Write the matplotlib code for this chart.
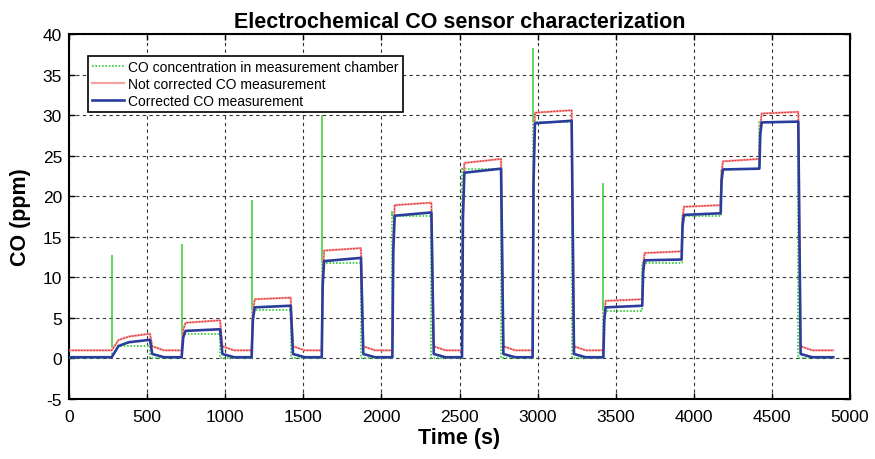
import matplotlib
matplotlib.use("Agg")
import matplotlib.pyplot as plt
from matplotlib.lines import Line2D

plt.rcParams['font.family'] = ['Liberation Sans', 'DejaVu Sans']
plt.rcParams['axes.unicode_minus'] = False

# Exposure schedule (s): each segment starts at seg_start and ends at seg_end
seg_start = [273, 721, 1169, 1618, 2070, 2516, 2968, 3421, 3670, 3922, 4172, 4420]
seg_end = [518, 967, 1419, 1869, 2320, 2766, 3218, 3670, 3922, 4172, 4420, 4669]
t_end = 4893

# Reference CO concentration in the chamber (ppm) and the injection spikes
green_level = [1.5, 3.0, 6.0, 11.8, 17.6, 23.4, 29.2, 5.9, 11.8, 17.6, 23.4, 29.2]
green_spike = [12.7, 14.1, 19.5, 30.0, 18.2, 23.5, 38.3, 21.6, 11.8, 17.6, 23.4, 29.2]

# Uncorrected sensor reading (ppm): value after the rise and at the end of each segment
red_start = [2.7, 4.4, 7.3, 13.3, 18.9, 24.1, 30.3, 7.1, 13.0, 18.7, 24.3, 30.2]
red_end = [3.05, 4.7, 7.5, 13.6, 19.2, 24.6, 30.6, 7.3, 13.2, 18.9, 24.6, 30.4]
red_base = 1.0
red_tail = 1.5

# Corrected sensor reading (ppm)
blue_start = [2.0, 3.4, 6.3, 12.0, 17.6, 22.9, 29.0, 6.3, 12.1, 17.7, 23.3, 29.1]
blue_end = [2.3, 3.6, 6.5, 12.4, 18.0, 23.4, 29.3, 6.5, 12.2, 17.9, 23.4, 29.2]
blue_base = 0.15
blue_tail = 0.55

# Sensor rise time for each segment (s)
rise_s = [110, 25, 20, 15, 15, 15, 15, 15, 15, 15, 15, 15]

x_ticks = [0, 500, 1000, 1500, 2000, 2500, 3000, 3500, 4000, 4500, 5000]
y_ticks = [-5, 0, 5, 10, 15, 20, 25, 30, 35, 40]


def sensor_trace(start_lv, end_lv, base, tail, fall=15, settle=90):
    t, v = [0.0], [base]
    for i, (s, e) in enumerate(zip(seg_start, seg_end)):
        prev = v[-1]
        t.append(s); v.append(prev)
        t.append(s + 0.4 * rise_s[i]); v.append(prev + 0.75 * (start_lv[i] - prev))
        t.append(s + rise_s[i]); v.append(start_lv[i])
        t.append(e); v.append(end_lv[i])
        last = i == len(seg_start) - 1
        if last or seg_start[i + 1] != e:
            t.append(e + fall); v.append(tail)
            t.append(e + settle); v.append(base)
    t.append(t_end); v.append(v[-1])
    return t, v


def chamber_trace():
    t, v = [0.0], [0.0]
    for i, (s, e) in enumerate(zip(seg_start, seg_end)):
        t.append(s); v.append(v[-1])
        t.append(s); v.append(green_level[i])
        t.append(e); v.append(green_level[i])
        last = i == len(seg_start) - 1
        if last or seg_start[i + 1] != e:
            t.append(e); v.append(0.0)
    t.append(t_end); v.append(0.0)
    return t, v


fig = plt.figure(figsize=(8.75, 4.6), dpi=100)
ax = fig.add_axes([0.0789, 0.1304, 0.8925, 0.7935])

green = '#33cc33'
pink = '#f4a3a3'
red = '#e82020'
blue = '#2b3d9c'

gt, gv = chamber_trace()
ax.plot(gt, gv, color=green, lw=1.2, ls=(0, (1, 1)), zorder=3)
for s, lv, sp in zip(seg_start, green_level, green_spike):
    if sp > lv:
        ax.vlines(s, lv, sp, color=green, lw=1.1, zorder=3)

rt, rv = sensor_trace(red_start, red_end, red_base, red_tail)
ax.plot(rt, rv, color=pink, lw=1.6, zorder=4)
ax.plot(rt, rv, color=red, lw=0.8, ls=(0, (1.5, 1.2)), zorder=4)

bt, bv = sensor_trace(blue_start, blue_end, blue_base, blue_tail)
ax.plot(bt, bv, color=blue, lw=1.9, zorder=5)

ax.set_xlim(0, 5000)
ax.set_ylim(-5, 40)
ax.set_xticks(x_ticks)
ax.set_yticks(y_ticks)
ax.tick_params(direction='in', top=True, right=True, length=4, width=1,
               labelsize=12.5, colors='black')
ax.tick_params(axis='x', pad=7)
ax.tick_params(axis='y', pad=5)
ax.grid(True, color='#333333', ls=(0, (3, 3)), lw=0.8)
ax.set_axisbelow(True)
for sp in ax.spines.values():
    sp.set_linewidth(1.5)

ax.set_title('Electrochemical CO sensor characterization', fontsize=15.5,
             fontweight='bold', pad=5)
ax.set_xlabel('Time (s)', fontsize=15.5, fontweight='bold', labelpad=2)
ax.set_ylabel('CO (ppm)', fontsize=15.5, fontweight='bold', labelpad=8)

handles = [
    Line2D([], [], color=green, lw=1.2, ls=(0, (1, 1))),
    Line2D([], [], color=pink, lw=1.6),
    Line2D([], [], color=blue, lw=1.9),
]
labels = ['CO concentration in measurement chamber',
          'Not corrected CO measurement',
          'Corrected CO measurement']
leg = ax.legend(handles, labels, loc='upper left', bbox_to_anchor=(0.024, 0.94),
                fontsize=10, frameon=True, fancybox=False, framealpha=1,
                edgecolor='black', handlelength=2.3, handletextpad=0.3,
                labelspacing=0.2, borderpad=0.3, borderaxespad=0)
leg.get_frame().set_linewidth(1.2)

fig.savefig('out.png', dpi=100)
